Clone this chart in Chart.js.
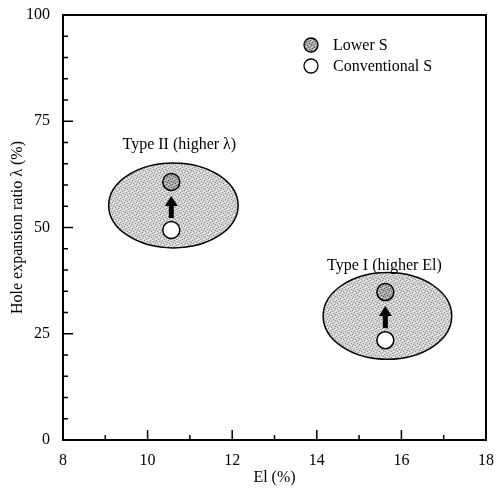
<!DOCTYPE html>
<html>
<head>
<meta charset="utf-8">
<script src="https://cdn.jsdelivr.net/npm/chart.js@4.4.1/dist/chart.umd.min.js"></script>
<style>
  body { margin: 0; background: #fff; }
  canvas { display: block; }
</style>
</head>
<body>
<canvas id="chart" width="497" height="490"></canvas>
<script>
// data
var groups = ['Type II (higher λ)', 'Type I (higher El)'];
var elValues = [10.56, 15.62];
var lowerS = [60.7, 34.8];
var conventionalS = [49.4, 23.5];

// shaded regions round each group: centre and half-size in axis units
var regionX = [10.61, 15.67];
var regionY = [55.2, 29.2];
var regionHalfX = [1.53, 1.52];
var regionHalfY = [10.0, 10.2];

// where the group names sit
var labelX = [10.75, 15.6];
var labelY = [69.4, 41.1];

var xMajor = [8, 10, 12, 14, 16, 18];
var xMinor = [9, 11, 13, 15, 17];
var yMajor = [0, 25, 50, 75, 100];
var yMinor = [5, 10, 15, 20, 30, 35, 40, 45, 55, 60, 65, 70, 80, 85, 90, 95];

var legendNames = ['Lower S', 'Conventional S'];

var FONT = '"Liberation Serif", "DejaVu Serif", serif';

function makePattern(base, dots, light) {
    var c = document.createElement('canvas');
    c.width = 6; c.height = 6;
    var g = c.getContext('2d');
    g.fillStyle = base;
    g.fillRect(0, 0, 6, 6);
    g.fillStyle = dots;
    [[0, 0], [3, 1], [1, 3], [4, 4], [5, 2], [2, 5]].forEach(function (p) { g.fillRect(p[0], p[1], 1, 1); });
    g.fillStyle = light;
    [[2, 0], [5, 5], [0, 4], [3, 3]].forEach(function (p) { g.fillRect(p[0], p[1], 1, 1); });
    return g.createPattern(c, 'repeat');
}

var ctx0 = document.getElementById('chart').getContext('2d');
var regionFill = makePattern('#d2d2d2', '#8e8e8e', '#f6f6f6');
var lowerFill = makePattern('#a8a8a8', '#555555', '#e0e0e0');

function pts(ys) {
    return ys.map(function (y, i) { return { x: elValues[i], y: y }; });
}

var decor = {
    id: 'decor',
    beforeDatasetsDraw: function (chart) {
        var c = chart.ctx, xs = chart.scales.x, ys = chart.scales.y;
        c.save();
        // shaded ellipses
        for (var i = 0; i < regionX.length; i++) {
            var cx = xs.getPixelForValue(regionX[i]);
            var cy = ys.getPixelForValue(regionY[i]);
            var rx = Math.abs(xs.getPixelForValue(regionX[i] + regionHalfX[i]) - cx);
            var ry = Math.abs(ys.getPixelForValue(regionY[i] + regionHalfY[i]) - cy);
            c.beginPath();
            c.ellipse(cx, cy, rx, ry, 0, 0, Math.PI * 2);
            c.fillStyle = regionFill;
            c.fill();
            c.lineWidth = 1.5;
            c.strokeStyle = '#000';
            c.stroke();
        }
        // arrows from conventional to lower S
        for (var j = 0; j < elValues.length; j++) {
            var ax = xs.getPixelForValue(elValues[j]);
            var y0 = ys.getPixelForValue(conventionalS[j]) - 12;
            var y1 = ys.getPixelForValue(lowerS[j]) + 14;
            c.fillStyle = '#000';
            c.fillRect(ax - 2.5, y1 + 8, 5, y0 - y1 - 8);
            c.beginPath();
            c.moveTo(ax, y1);
            c.lineTo(ax + 6.5, y1 + 10);
            c.lineTo(ax - 6.5, y1 + 10);
            c.closePath();
            c.fill();
        }
        // group names
        c.font = '16px ' + FONT;
        c.fillStyle = '#000';
        c.textAlign = 'center';
        c.textBaseline = 'middle';
        for (var k = 0; k < groups.length; k++) {
            c.fillText(groups[k], xs.getPixelForValue(labelX[k]), ys.getPixelForValue(labelY[k]));
        }
        c.restore();
    },
    afterDraw: function (chart) {
        var c = chart.ctx, a = chart.chartArea, xs = chart.scales.x, ys = chart.scales.y;
        c.save();
        c.strokeStyle = '#000';
        // frame top and right
        c.lineWidth = 2;
        c.beginPath();
        c.moveTo(a.left, a.top);
        c.lineTo(a.right, a.top);
        c.lineTo(a.right, a.bottom);
        c.stroke();
        // inward ticks
        c.lineWidth = 1.5;
        c.beginPath();
        xMajor.forEach(function (v) { var p = xs.getPixelForValue(v); c.moveTo(p, a.bottom); c.lineTo(p, a.bottom - 10); });
        xMinor.forEach(function (v) { var p = xs.getPixelForValue(v); c.moveTo(p, a.bottom); c.lineTo(p, a.bottom - 5); });
        yMajor.forEach(function (v) { var p = ys.getPixelForValue(v); c.moveTo(a.left, p); c.lineTo(a.left + 10, p); });
        yMinor.forEach(function (v) { var p = ys.getPixelForValue(v); c.moveTo(a.left, p); c.lineTo(a.left + 5, p); });
        c.stroke();
        // legend
        var fills = [lowerFill, '#ffffff'];
        c.font = '16px ' + FONT;
        c.textAlign = 'left';
        c.textBaseline = 'middle';
        for (var i = 0; i < legendNames.length; i++) {
            var ly = 45 + i * 21;
            c.beginPath();
            c.arc(311, ly, 7, 0, Math.PI * 2);
            c.fillStyle = fills[i];
            c.fill();
            c.lineWidth = 1.3;
            c.stroke();
            c.fillStyle = '#000';
            c.fillText(legendNames[i], 333, ly + 1);
        }
        c.restore();
    }
};

new Chart(ctx0, {
    type: 'scatter',
    data: {
        datasets: [{
            label: legendNames[0],
            data: pts(lowerS),
            pointRadius: 8.5,
            pointHoverRadius: 8.5,
            backgroundColor: lowerFill,
            borderColor: '#000',
            borderWidth: 1.5
        }, {
            label: legendNames[1],
            data: pts(conventionalS),
            pointRadius: 8.5,
            pointHoverRadius: 8.5,
            backgroundColor: '#ffffff',
            borderColor: '#000',
            borderWidth: 1.5
        }]
    },
    options: {
        responsive: false,
        animation: false,
        events: [],
        layout: { padding: { top: 15, right: 7, left: 0, bottom: 0 } },
        scales: {
            x: {
                type: 'linear',
                min: 8,
                max: 18,
                afterFit: function (s) { s.height = 50; },
                ticks: { stepSize: 2, color: '#000', padding: 3, font: { family: FONT, size: 16 } },
                grid: { display: false },
                border: { display: true, color: '#000', width: 2 },
                title: { display: true, text: 'El (%)', color: '#000', padding: { top: 0, bottom: 3 }, font: { family: FONT, size: 16 } }
            },
            y: {
                min: 0,
                max: 100,
                afterFit: function (s) { s.width = 63; },
                ticks: { stepSize: 25, color: '#000', padding: 5, font: { family: FONT, size: 16 } },
                grid: { display: false },
                border: { display: true, color: '#000', width: 2 },
                title: { display: true, text: 'Hole expansion ratio λ (%)', color: '#000', padding: { top: 8, bottom: 0 }, font: { family: FONT, size: 16 } }
            }
        },
        plugins: {
            legend: { display: false },
            tooltip: { enabled: false }
        }
    },
    plugins: [decor]
});
</script>
</body>
</html>
